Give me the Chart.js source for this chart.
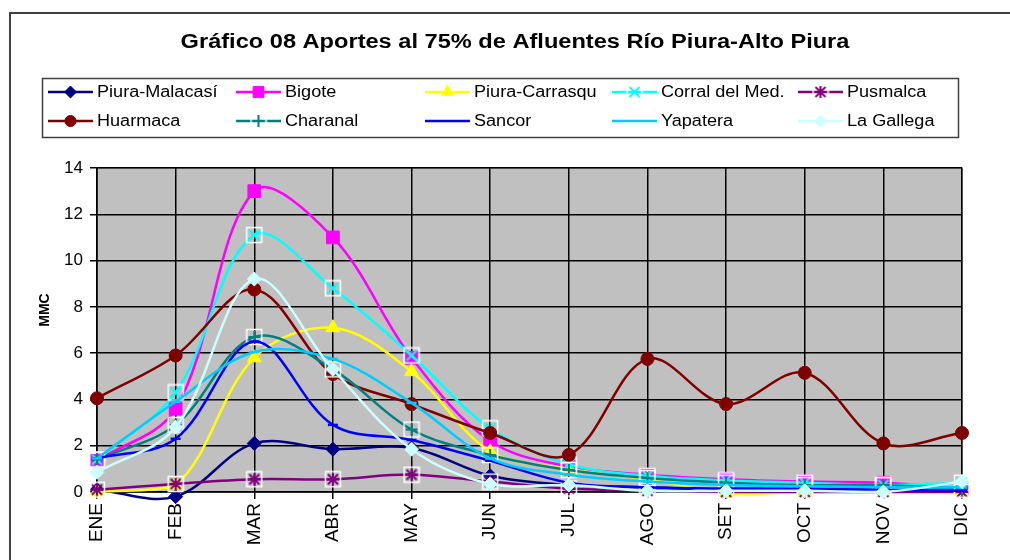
<!DOCTYPE html>
<html>
<head>
<meta charset="utf-8">
<script src="https://cdn.jsdelivr.net/npm/chart.js@4/dist/chart.umd.min.js"></script>
<style>
  html, body { margin: 0; padding: 0; background: #fff; }
  #wrap { width: 1010px; height: 560px; position: relative; }
</style>
</head>
<body>
<div id="wrap"><canvas id="chart" width="1010" height="560"></canvas></div>
<script>
// Data (MMC per month)
const months = ['ENE', 'FEB', 'MAR', 'ABR', 'MAY', 'JUN', 'JUL', 'AGO', 'SET', 'OCT', 'NOV', 'DIC'];
const yTicks = [0, 2, 4, 6, 8, 10, 12, 14];

const piuraMalacasi = [0.1, -0.2, 2.1, 1.85, 1.9, 0.7, 0.3, 0.2, 0.1, 0.1, 0.05, 0.05];
const bigote        = [1.35, 3.6, 13.0, 11.0, 5.8, 2.2, 1.1, 0.75, 0.55, 0.45, 0.4, 0.15];
const piuraCarrasqu = [0.0, 0.3, 5.8, 7.1, 5.2, 1.75, 1.0, 0.55, -0.05, 0.0, 0.0, 0.0];
const corralDelMed  = [1.4, 4.3, 11.1, 8.8, 5.9, 2.75, 1.2, 0.7, 0.5, 0.4, 0.3, 0.4];
const pusmalca      = [0.1, 0.35, 0.55, 0.55, 0.75, 0.45, 0.15, 0.05, 0.0, 0.0, 0.0, 0.0];
const huarmaca      = [4.05, 5.9, 8.75, 5.1, 3.8, 2.55, 1.6, 5.75, 3.8, 5.15, 2.1, 2.55];
const charanal      = [1.4, 2.9, 6.7, 5.3, 2.7, 1.6, 0.95, 0.6, 0.4, 0.3, 0.3, 0.1];
const sancor        = [1.45, 2.3, 6.5, 2.9, 2.25, 1.35, 0.4, 0.2, 0.15, 0.15, 0.1, 0.05];
const yapatera      = [1.45, 3.9, 6.05, 5.75, 3.85, 1.45, 0.75, 0.45, 0.3, 0.25, 0.2, 0.2];
const laGallega     = [0.85, 2.8, 9.2, 5.3, 1.85, 0.35, 0.3, 0.05, 0.05, 0.05, 0.0, 0.45];

// markers with the white box, like Excel's x / + / * markers
function boxMarker(color, kind) {
    const c = document.createElement('canvas');
    c.width = 18; c.height = 18;
    const g = c.getContext('2d');
    g.strokeStyle = '#ffffff';
    g.lineWidth = 1.5;
    g.strokeRect(1.5, 1.5, 15, 15);
    g.strokeStyle = color;
    g.lineWidth = 2;
    g.beginPath();
    if (kind === 'x' || kind === '*') {
        g.moveTo(4, 4); g.lineTo(14, 14);
        g.moveTo(14, 4); g.lineTo(4, 14);
    }
    if (kind === '+' || kind === '*') {
        g.moveTo(9, 3); g.lineTo(9, 15);
        g.moveTo(3, 9); g.lineTo(15, 9);
    }
    g.stroke();
    return c;
}

const seriesDefs = [
    { label: 'Piura-Malacasí', data: piuraMalacasi, color: '#000080', style: 'rectRot', radius: 7 },
    { label: 'Bigote',         data: bigote,        color: '#FF00FF', style: 'rect',    radius: 9 },
    { label: 'Piura-Carrasqu', data: piuraCarrasqu, color: '#FFFF00', style: 'triangle', radius: 8 },
    { label: 'Corral del Med.', data: corralDelMed, color: '#00FFFF', style: boxMarker('#00FFFF', 'x'), radius: 9 },
    { label: 'Pusmalca',       data: pusmalca,      color: '#800080', style: boxMarker('#800080', '*'), radius: 9 },
    { label: 'Huarmaca',       data: huarmaca,      color: '#800000', style: 'circle',  radius: 6.5 },
    { label: 'Charanal',       data: charanal,      color: '#008080', style: boxMarker('#008080', '+'), radius: 9 },
    { label: 'Sancor',         data: sancor,        color: '#0000FF', style: 'line',    radius: 5 },
    { label: 'Yapatera',       data: yapatera,      color: '#00CCFF', style: 'line',    radius: 5 },
    { label: 'La Gallega',     data: laGallega,     color: '#CCFFFF', style: 'rectRot', radius: 7 }
];

const datasets = seriesDefs.map((s, i) => ({
    label: s.label,
    data: s.data,
    borderColor: s.color,
    backgroundColor: s.color,
    borderWidth: 2.5,
    tension: 0.35,
    pointStyle: s.style,
    pointRadius: s.radius,
    pointBorderWidth: s.style === 'line' ? 2.5 : 1,
    pointBackgroundColor: s.color,
    pointBorderColor: s.color,
    clip: false,
    order: 10 - i // later series drawn on top, like Excel
}));

// text stretched a bit wider, as in the original picture
function wideText(ctx, text, x, y, sx) {
    ctx.save();
    ctx.translate(x, y);
    ctx.scale(sx, 1);
    ctx.fillText(text, 0, 0);
    ctx.restore();
}

const decorPlugin = {
    id: 'decor',
    beforeDraw(chart) {
        const ctx = chart.ctx;
        const a = chart.chartArea;
        ctx.save();
        ctx.fillStyle = '#ffffff';
        ctx.fillRect(0, 0, chart.width, chart.height);
        // outer frame (only top and left visible)
        ctx.strokeStyle = '#404040';
        ctx.lineWidth = 2;
        ctx.beginPath();
        ctx.moveTo(10, 560); ctx.lineTo(10, 13); ctx.lineTo(1010, 13);
        ctx.stroke();
        // plot background
        ctx.fillStyle = '#C0C0C0';
        ctx.fillRect(a.left, a.top, a.right - a.left, a.bottom - a.top);
        ctx.strokeStyle = '#808080';
        ctx.lineWidth = 1.5;
        ctx.strokeRect(a.left, a.top, a.right - a.left, a.bottom - a.top);
        // title
        ctx.fillStyle = '#000';
        ctx.font = 'bold 20px "Liberation Sans", Arial, sans-serif';
        ctx.textAlign = 'center';
        ctx.textBaseline = 'middle';
        wideText(ctx, 'Gráfico 08 Aportes al 75% de Afluentes Río Piura-Alto Piura', 515, 42, 1.18);
        // y axis title
        ctx.save();
        ctx.translate(45, 310);
        ctx.rotate(-Math.PI / 2);
        ctx.font = 'bold 14px "Liberation Sans", Arial, sans-serif';
        ctx.fillText('MMC', 0, 0);
        ctx.restore();
        ctx.restore();
    },
    afterDraw(chart) {
        const ctx = chart.ctx;
        ctx.save();
        // legend box
        ctx.strokeStyle = '#404040';
        ctx.lineWidth = 1.5;
        ctx.strokeRect(42.5, 78.5, 916, 59);
        const colX = [48, 236, 425, 612, 798];
        const rowY = [92, 121];
        ctx.font = '16px "Liberation Sans", Arial, sans-serif';
        ctx.textBaseline = 'middle';
        ctx.textAlign = 'left';
        seriesDefs.forEach((s, i) => {
            const x = colX[i % 5];
            const y = rowY[Math.floor(i / 5)];
            ctx.strokeStyle = s.color;
            ctx.fillStyle = s.color;
            ctx.lineWidth = 2.5;
            ctx.beginPath();
            ctx.moveTo(x, y); ctx.lineTo(x + 45, y);
            ctx.stroke();
            if (s.style !== 'line' && Chart.helpers && Chart.helpers.drawPoint) {
                ctx.lineWidth = 1;
                Chart.helpers.drawPoint(ctx, { pointStyle: s.style, rotation: 0, radius: s.radius * 0.85, borderWidth: 1 }, x + 22.5, y);
            }
            ctx.fillStyle = '#000';
            wideText(ctx, s.label, x + 49, y + 1, 1.13);
        });
        ctx.restore();
    }
};

const chart = new Chart(document.getElementById('chart').getContext('2d'), {
    type: 'line',
    data: { labels: months, datasets: datasets },
    options: {
        responsive: false,
        animation: false,
        devicePixelRatio: 1,
        layout: { padding: { top: 168, right: 48, left: 0, bottom: 0 } },
        plugins: {
            legend: { display: false },
            title: { display: false },
            tooltip: { enabled: false }
        },
        scales: {
            x: {
                offset: false,
                afterFit(scale) { scale.height = 68; },
                grid: { color: '#000', lineWidth: 1.5, tickLength: 7, drawOnChartArea: true },
                border: { color: '#000', width: 1.5 },
                ticks: {
                    color: '#000',
                    font: { size: 19, family: '"Liberation Sans", Arial, sans-serif' },
                    minRotation: 90,
                    maxRotation: 90,
                    autoSkip: false,
                    padding: 4
                }
            },
            y: {
                min: 0,
                max: 14,
                afterFit(scale) { scale.width = 97; },
                afterBuildTicks(scale) { scale.ticks = yTicks.map(v => ({ value: v })); },
                grid: { color: '#000', lineWidth: 1.5, tickLength: 7 },
                border: { color: '#000', width: 1.5 },
                ticks: {
                    color: '#000',
                    font: { size: 17, family: '"Liberation Sans", Arial, sans-serif' },
                    padding: 7
                }
            }
        }
    },
    plugins: [decorPlugin]
});
</script>
</body>
</html>
